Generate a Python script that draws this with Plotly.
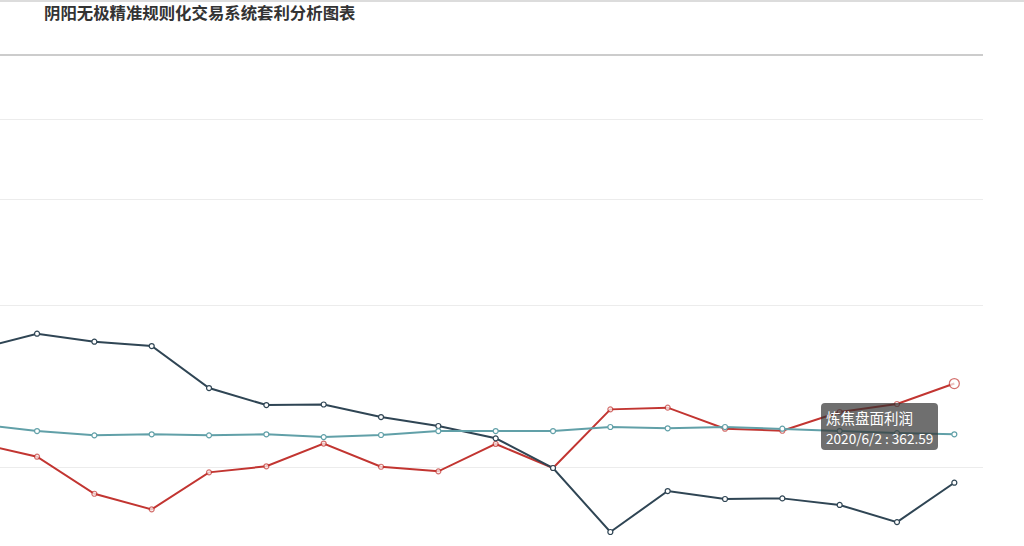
import math
import plotly.graph_objects as go

# Category axis (trading days ending 2020/6/2)
dates = ["2020/5/8", "2020/5/11", "2020/5/12", "2020/5/13", "2020/5/14", "2020/5/15",
         "2020/5/18", "2020/5/19", "2020/5/20", "2020/5/21", "2020/5/22", "2020/5/25",
         "2020/5/26", "2020/5/27", "2020/5/28", "2020/5/29", "2020/6/1", "2020/6/2"]

# Series values (log-scaled value axis)
profit = [299.8, 287.8, 256.0, 243.7, 273.9, 279.2, 300.0, 278.8, 274.8, 299.6,
          277.7, 334.2, 336.0, 314.4, 312.4, 331.4, 339.9, 362.59]
series_b = [404.9, 424.4, 413.8, 408.2, 357.5, 338.8, 339.4, 326.2, 317.1, 305.0,
            277.7, 226.9, 258.2, 251.8, 252.3, 247.1, 234.1, 265.1]
series_c = [318.8, 312.1, 307.9, 308.9, 307.9, 308.9, 306.2, 308.2, 312.1, 312.1,
            312.1, 316.1, 314.8, 316.1, 314.4, 312.1, 310.1, 308.9]

grid_vals = [278.3, 463.8, 649.3, 834.8, 1020.4]

title_text = "阴阳无极精准规则化交易系统套利分析图表"
tooltip_name = "炼焦盘面利润"

FONT = "Noto Sans CJK SC, Noto Sans, sans-serif"

fig = go.Figure()

def add_series(name, vals, color, sizes=None):
    fig.add_trace(go.Scatter(
        x=dates, y=vals, name=name, mode="lines+markers",
        line=dict(color=color, width=2),
        marker=dict(symbol="circle", size=sizes if sizes else 5, color="white",
                    line=dict(color=color, width=1.2)),
        hoverinfo="skip",
    ))

add_series(tooltip_name, profit, "#c23531", [5] * (len(profit) - 1) + [10])
add_series("焦炭", series_b, "#2f4554")
add_series("焦煤", series_c, "#61a0a8")

# tooltip mimic at the hovered (last) point (log axis -> annotation y in log10 units)
ty = math.log10(profit[-1])
fig.add_annotation(x=dates[-1], y=ty, xref="x", yref="y", text=tooltip_name,
                   showarrow=False, xanchor="left", yanchor="middle",
                   xshift=-130, yshift=-34,
                   font=dict(family=FONT, size=14.5, color="white"))
fig.add_annotation(x=dates[-1], y=ty, xref="x", yref="y",
                   text=f"{dates[-1]} : {profit[-1]:.2f}",
                   showarrow=False, xanchor="left", yanchor="middle",
                   xshift=-130, yshift=-54,
                   font=dict(family=FONT, size=13.6, color="white"))

# rounded tooltip box (paper coordinates of the plot area: 983 x 490 px)
bx0, bx1, by0, by1, rr = 821, 938, 403, 450, 4
def px(x):
    return x / 983
def py(y):
    return 1 - (y - 56) / 490
box_path = (
    f"M {px(bx0 + rr)},{py(by0)} L {px(bx1 - rr)},{py(by0)} "
    f"Q {px(bx1)},{py(by0)} {px(bx1)},{py(by0 + rr)} L {px(bx1)},{py(by1 - rr)} "
    f"Q {px(bx1)},{py(by1)} {px(bx1 - rr)},{py(by1)} L {px(bx0 + rr)},{py(by1)} "
    f"Q {px(bx0)},{py(by1)} {px(bx0)},{py(by1 - rr)} L {px(bx0)},{py(by0 + rr)} "
    f"Q {px(bx0)},{py(by0)} {px(bx0 + rr)},{py(by0)} Z"
)

fig.update_layout(
    width=1024, height=546,
    margin=dict(l=0, r=41, t=56, b=0),
    paper_bgcolor="white", plot_bgcolor="white",
    showlegend=False,
    title=dict(text=title_text, x=44 / 1024, xanchor="left", y=1 - 13 / 546, yanchor="middle",
               font=dict(family=FONT, size=16.4, color="#333333", weight="bold")),
    xaxis=dict(type="category", range=[0.354, 17.5], side="top",
               showgrid=False, showticklabels=False, ticks="", zeroline=False,
               showline=True, linecolor="#cccccc", linewidth=1.5),
    yaxis=dict(type="log", range=[2.3366, 3.0087], tickvals=grid_vals,
               showticklabels=False, ticks="", gridcolor="#ececec", gridwidth=1,
               zeroline=False, showline=False),
    shapes=[
        dict(type="line", xref="paper", yref="paper", x0=0, x1=1041 / 983,
             y0=1 + 55 / 490, y1=1 + 55 / 490, line=dict(color="#d0d0d0", width=1.5)),
        dict(type="path", xref="paper", yref="paper", path=box_path,
             fillcolor="rgba(50,50,50,0.7)", line=dict(width=0), layer="above"),
    ],
    hovermode=False,
)

fig.write_html(
    "out.html",
    config={"displayModeBar": False},
    post_script="document.body.style.margin='0px';document.documentElement.style.overflow='hidden';document.body.style.overflow='hidden';",
)
